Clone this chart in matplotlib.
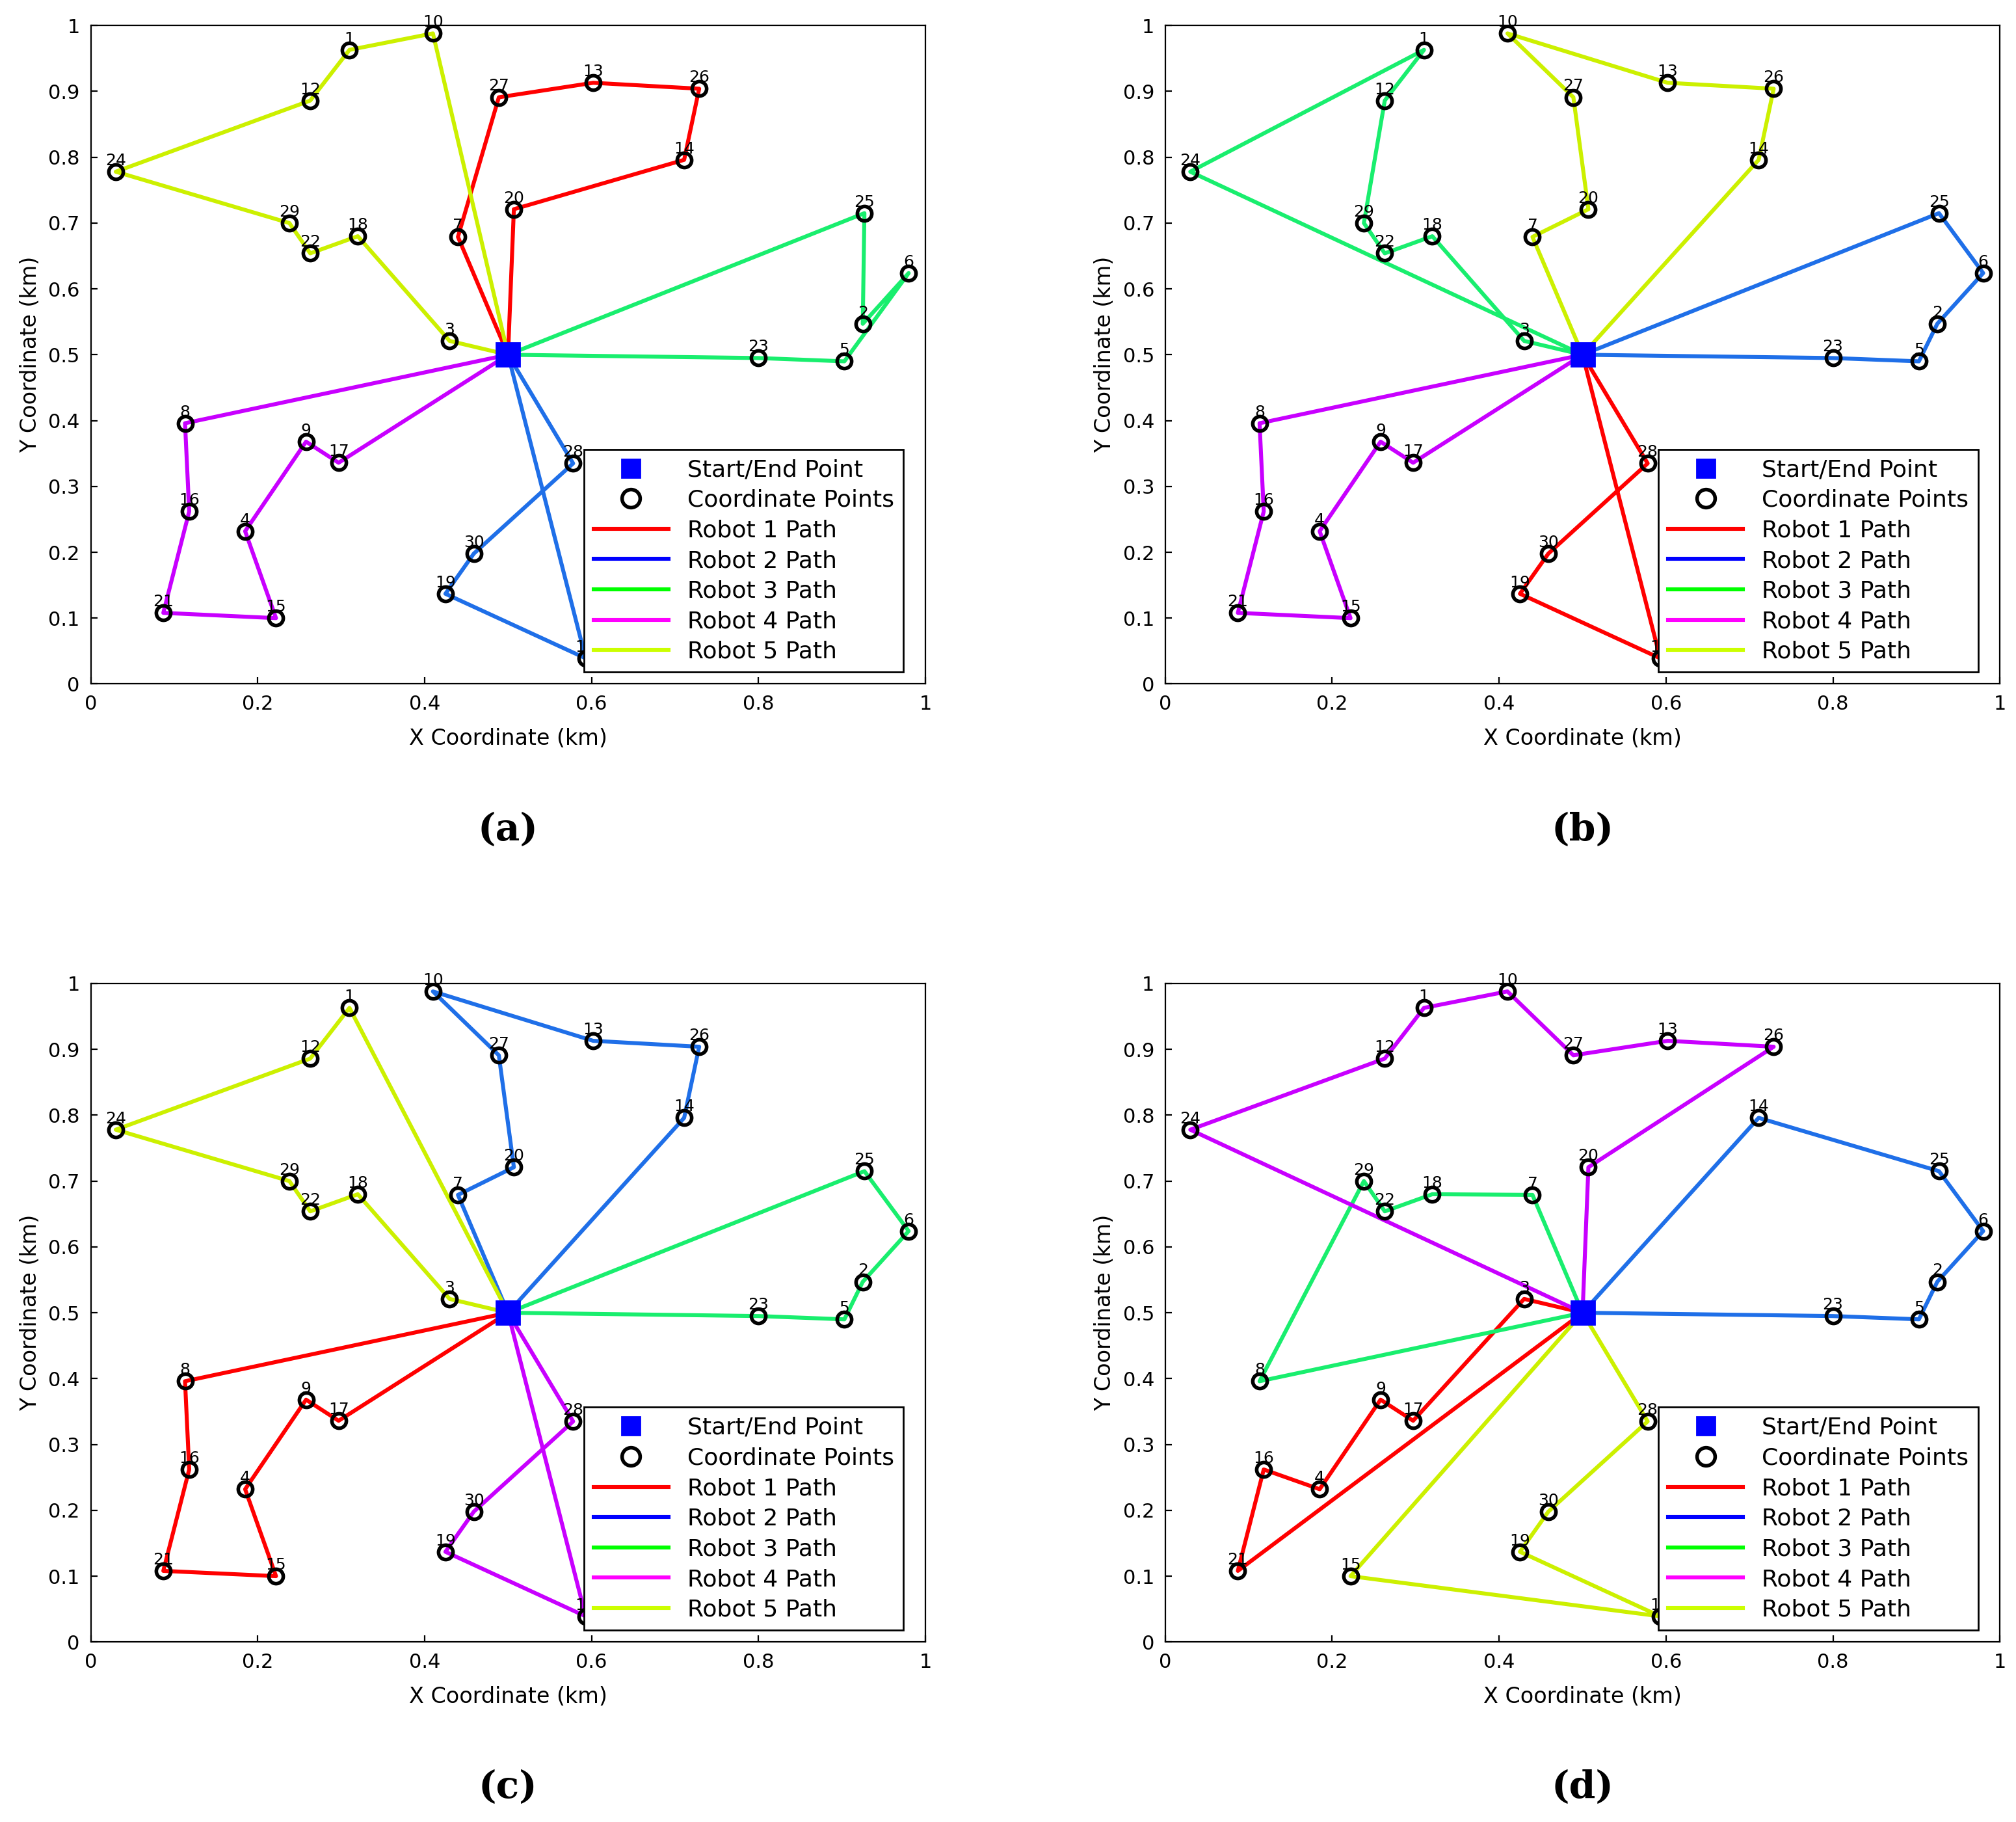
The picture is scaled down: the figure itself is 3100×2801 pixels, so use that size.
import matplotlib
matplotlib.use("Agg")
import matplotlib.pyplot as plt
from matplotlib.lines import Line2D

# point coordinates (km), index = point id
point_ids = list(range(1, 31))
xs = [0.31, 0.925, 0.43, 0.185, 0.903, 0.98, 0.44, 0.113, 0.258, 0.41,
      0.593, 0.263, 0.602, 0.711, 0.222, 0.118, 0.297, 0.32, 0.425, 0.507,
      0.087, 0.263, 0.80, 0.03, 0.927, 0.729, 0.489, 0.578, 0.238, 0.459]
ys = [0.963, 0.547, 0.521, 0.232, 0.49, 0.624, 0.679, 0.396, 0.368, 0.988,
      0.039, 0.886, 0.913, 0.796, 0.10, 0.262, 0.336, 0.68, 0.137, 0.721,
      0.108, 0.654, 0.495, 0.778, 0.715, 0.904, 0.891, 0.335, 0.70, 0.198]
depot = (0.5, 0.5)

# routes per panel (robot 1..5), depot implied at both ends
routes_a = [[7, 27, 13, 26, 14, 20], [28, 30, 19, 11], [23, 5, 6, 2, 25],
            [17, 9, 4, 15, 21, 16, 8], [3, 18, 22, 29, 24, 12, 1, 10]]
routes_b = [[28, 30, 19, 11], [23, 5, 2, 6, 25], [3, 18, 22, 29, 12, 1, 24],
            [17, 9, 4, 15, 21, 16, 8], [7, 20, 27, 10, 13, 26, 14]]
routes_c = [[17, 9, 4, 15, 21, 16, 8], [7, 20, 27, 10, 13, 26, 14], [23, 5, 2, 6, 25],
            [28, 30, 19, 11], [3, 18, 22, 29, 24, 12, 1]]
routes_d = [[3, 17, 9, 4, 16, 21], [23, 5, 2, 6, 25, 14], [7, 18, 22, 29, 8],
            [24, 12, 1, 10, 27, 13, 26, 20], [28, 30, 19, 11, 15]]
panels = [routes_a, routes_b, routes_c, routes_d]
captions = ["(a)", "(b)", "(c)", "(d)"]

path_colors = ["#ff0000", "#1f6fe8", "#19ee6e", "#c800ff", "#ccf000"]
legend_colors = ["#ff0000", "#0000ff", "#00ff00", "#ff00ff", "#ccff00"]

fig = plt.figure(figsize=(15.5, 14.005), dpi=200)
boxes = [(0.045, 0.6246), (0.578, 0.6246), (0.045, 0.0988), (0.578, 0.0988)]
w, h = 0.414, 0.3614

for routes, cap, (l, b) in zip(panels, captions, boxes):
    ax = fig.add_axes([l, b, w, h])
    for r, col in zip(routes, path_colors):
        px = [depot[0]] + [xs[i - 1] for i in r] + [depot[0]]
        py = [depot[1]] + [ys[i - 1] for i in r] + [depot[1]]
        ax.plot(px, py, color=col, lw=2.2, zorder=2)
    ax.plot(xs, ys, "o", mfc="none", mec="black", mew=2, ms=8, zorder=3)
    for pid, x, y in zip(point_ids, xs, ys):
        ax.text(x, y + 0.005, str(pid), ha="center", va="bottom", fontsize=9, zorder=4)
    ax.plot(*depot, "s", color="#0000ff", ms=13, zorder=5)
    ax.set_xlim(0, 1)
    ax.set_ylim(0, 1)
    ax.set_xticks([0, 0.2, 0.4, 0.6, 0.8, 1])
    ax.set_xticklabels(["0", "0.2", "0.4", "0.6", "0.8", "1"])
    ax.set_yticks([i / 10 for i in range(11)])
    ax.set_yticklabels(["0"] + [f"0.{i}" for i in range(1, 10)] + ["1"])
    ax.tick_params(labelsize=11, direction="in", pad=6)
    ax.set_xlabel("X Coordinate (km)", fontsize=12, labelpad=8)
    ax.set_ylabel("Y Coordinate (km)", fontsize=12)
    handles = [Line2D([], [], ls="none", marker="s", color="#0000ff", ms=10),
               Line2D([], [], ls="none", marker="o", mfc="none", mec="black", mew=2, ms=10)]
    handles += [Line2D([], [], color=c, lw=2.2) for c in legend_colors]
    labels = ["Start/End Point", "Coordinate Points"] + [f"Robot {i} Path" for i in range(1, 6)]
    ax.legend(handles, labels, loc="lower right", fontsize=13, fancybox=False,
              edgecolor="black", framealpha=1, borderaxespad=0.5, handlelength=3.2,
              labelspacing=0.35, bbox_to_anchor=(0.988, 0.0))
    fig.text(l + w / 2, b - 0.08, cap, ha="center", va="center",
             fontsize=21, family="DejaVu Serif", weight="bold")

fig.savefig("out.png", dpi=200, facecolor="white")
